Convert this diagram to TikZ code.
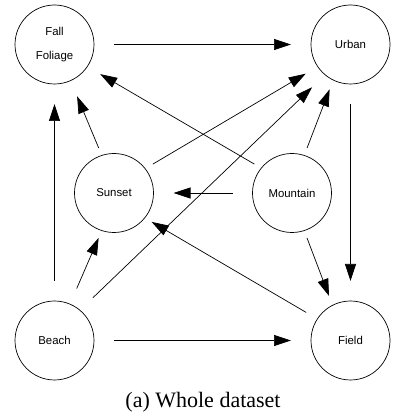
\documentclass[tikz,border=0pt]{standalone}
\usepackage{fontspec}
\setmainfont{Liberation Serif}
\setsansfont{Liberation Sans}
\usepackage{tikz}
\usetikzlibrary{arrows.meta,positioning}
\tikzstyle{scene}=[circle, draw, line width=0.7pt, minimum size=79pt,
        inner sep=0pt, outer sep=0pt, align=center,
        font=\sffamily\fontsize{11.4}{13.7}\selectfont]
\tikzstyle{link}=[line width=0.7pt, -{Triangle[length=17pt, width=11pt]},
        shorten <=20pt, shorten >=20pt]

\begin{document}
\begin{tikzpicture}[x=1pt, y=1pt]
        \useasboundingbox (0,0) rectangle (393,416);

        \node[scene] (fall) at (54.5,371.5) {Fall\\[10pt]Foliage};
        \node[scene, right=217pt of fall] (urban) {Urban};
        \node[scene, below=217pt of fall] (beach) {Beach};
        \node[scene, right=217pt of beach] (field) {Field};
        \node[scene] (sunset) at (114,223) {Sunset};
        \node[scene] (mountain) at (292,223) {Mountain};

        \node[font=\fontsize{22}{26}\selectfont] (caption) at (203,14)
            {(a) Whole dataset};

        % outer square
        \draw[link] (fall.east) to (urban.west);
        \draw[link] (beach.east) to (field.west);
        \draw[link] (beach.north) to (fall.south);
        \draw[link] (urban.south) to (field.north);
        \draw[link] (mountain.west) to (sunset.east);

        % diagonals
        \draw[link, shorten <=8pt, shorten >=17pt] (sunset.108) to (fall.-66);
        \draw[link, shorten <=8pt, shorten >=10pt] (mountain.72) to (urban.-116);
        \draw[link, shorten <=17pt, shorten >=8pt] (beach.67) to (sunset.-108);
        \draw[link, shorten <=8pt, shorten >=10pt] (mountain.-72) to (field.117);
        \draw[link, shorten <=9pt, shorten >=14pt] (sunset.38) to (urban.-146);
        \draw[link, shorten <=18pt, shorten >=18pt] (beach.50) to (urban.-130);
        \draw[link, shorten <=13pt, shorten >=8pt] (field.147) to (sunset.-39);
        \draw[link, shorten <=8pt, shorten >=15pt] (mountain.141) to (fall.-34);

    \end{tikzpicture}
\end{document}
